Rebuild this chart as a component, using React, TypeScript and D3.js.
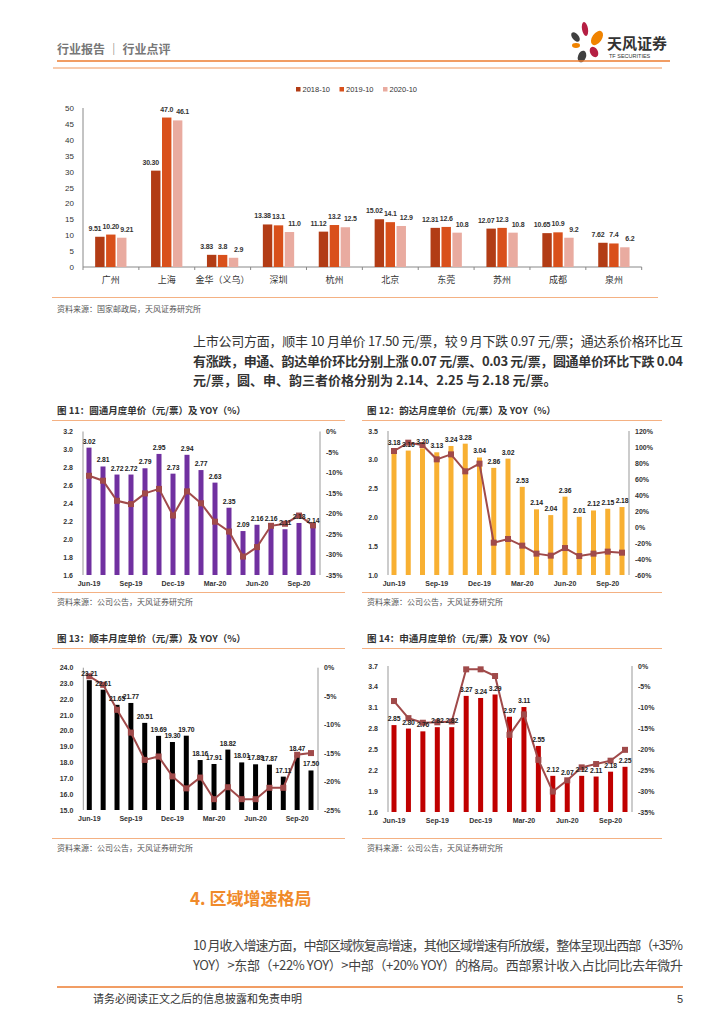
import * as d3 from "d3";

// ---- top chart: city unit price, Oct each year
const cities = ["广州", "上海", "金华（义乌）", "深圳", "杭州", "北京", "东莞", "苏州", "成都", "泉州"];
const years = ["2018-10", "2019-10", "2020-10"];
const city2018 = ["9.51", "30.30", "3.83", "13.38", "11.12", "15.02", "12.31", "12.07", "10.65", "7.62"];
const city2019 = ["10.20", "47.0", "3.8", "13.1", "13.2", "14.1", "12.6", "12.3", "10.9", "7.4"];
const city2020 = ["9.21", "46.1", "2.9", "11.0", "12.5", "12.9", "10.8", "10.8", "9.2", "6.2"];
const cityTicks = [0, 5, 10, 15, 20, 25, 30, 35, 40, 45, 50];

// ---- monthly charts
const months = ["Jun-19", "Jul-19", "Aug-19", "Sep-19", "Oct-19", "Nov-19", "Dec-19", "Jan-20", "Feb-20",
  "Mar-20", "Apr-20", "May-20", "Jun-20", "Jul-20", "Aug-20", "Sep-20", "Oct-20"];
const shownMonths = ["Jun-19", "Sep-19", "Dec-19", "Mar-20", "Jun-20", "Sep-20"];

const ytoPrice = ["3.02", "2.81", "2.72", "2.72", "2.79", "2.95", "2.73", "2.94", "2.77", "2.63", "2.35", "2.09", "2.16", "2.16", "2.11", "2.18", "2.14"];
const ytoYoy = [-10.8, -12.0, -16.9, -17.7, -15.1, -14.0, -20.5, -14.6, -17.5, -22.0, -24.4, -30.5, -28.2, -23.0, -22.5, -20.5, -22.9];
const ytoLeftTicks = ["1.6", "1.8", "2.0", "2.2", "2.4", "2.6", "2.8", "3.0", "3.2"];
const ytoRightTicks = [-35, -30, -25, -20, -15, -10, -5, 0];

const ydPrice = ["3.18", "3.16", "3.20", "3.13", "3.24", "3.28", "3.04", "2.86", "3.02", "2.53", "2.14", "2.04", "2.36", "2.01", "2.12", "2.15", "2.18"];
const ydYoy = [95, 105.4, 102.5, 84.6, 90.8, 69.6, 79.2, -19.6, -15, -23.3, -33.3, -35.8, -26.3, -36.3, -33.3, -30.8, -32.1];
const ydLeftTicks = ["1.0", "1.5", "2.0", "2.5", "3.0", "3.5"];
const ydRightTicks = [-60, -40, -20, 0, 20, 40, 60, 80, 100, 120];

const sfPrice = ["23.21", "22.61", "21.65", "21.77", "20.51", "19.69", "19.30", "19.70", "18.16", "17.91", "18.82", "18.01", "17.89", "17.87", "17.11", "18.47", "17.50"];
const sfYoy = [-1.5, -3.0, -7.4, -11.4, -16.2, -15.6, -19.1, -21.2, -19.3, -23.1, -21.0, -23.1, -23.1, -21.1, -21.1, -15.3, -15.0];
const sfLeftTicks = ["15.0", "16.0", "17.0", "18.0", "19.0", "20.0", "21.0", "22.0", "23.0", "24.0"];
const sfRightTicks = [-25, -20, -15, -10, -5, 0];

const stoPrice = ["2.85", "2.80", "2.76", "2.82", "2.82", "3.27", "3.24", "3.29", "2.97", "3.11", "2.55", "2.12", "2.07", "2.12", "2.11", "2.18", "2.25"];
const stoYoy = [-8.4, -12.5, -13.6, -13.5, -13.3, -0.8, -0.8, -2.4, -16.5, -11.6, -22.5, -30.1, -27.4, -24.3, -23.5, -22.7, -20.1];
const stoLeftTicks = ["1.6", "1.9", "2.2", "2.5", "2.8", "3.1", "3.4", "3.7"];
const stoRightTicks = [-35, -30, -25, -20, -15, -10, -5, 0];

const NUM = "'Liberation Sans', Arial, 'Noto Sans CJK SC', sans-serif";
const CJK = "'Noto Sans CJK SC', 'Liberation Sans', sans-serif";
const ORANGE = "#ED7D31";
const LIGHT = "#F4B183";
const LINE = "#A04A4A";
const SOURCE = "资料来源：公司公告，天风证券研究所";

function CityChart() {
  const left = 83, right = 641.7, top = 108, bottom = 267;
  const x0 = d3.scaleBand<string>().domain(cities).range([left, right]).paddingInner(0.385).paddingOuter(0.19);
  const x1 = d3.scaleBand<string>().domain(years).range([0, x0.bandwidth()]).padding(0.14);
  const y = d3.scaleLinear().domain([0, 50]).range([bottom, top]);
  const colors = ["#B23C15", "#D9501B", "#E9ABA0"];
  const series = [city2018, city2019, city2020];
  const step = (right - left) / cities.length;

  return (
    <g>
      {years.map((yr, k) => (
        <g key={yr} transform={`translate(${296 + k * 43.5},89)`}>
          <rect x={0} y={-2} width={4.5} height={4.5} fill={colors[k]} />
          <text x={6.5} y={3} fontSize={7.5} fill="#333" fontFamily={NUM}>{yr}</text>
        </g>
      ))}
      {cityTicks.map(t => (
        <text key={t} x={74} y={y(t) + 3} fontSize={8} textAnchor="end" fill="#333" fontFamily={NUM}>{t}</text>
      ))}
      <line x1={left} x2={left} y1={top} y2={bottom} stroke="#888" />
      <line x1={left} x2={right} y1={bottom} y2={bottom} stroke="#888" />
      {d3.range(cities.length + 1).map(i => (
        <line key={i} x1={left + i * step} x2={left + i * step} y1={bottom} y2={bottom + 3} stroke="#888" />
      ))}
      {cities.map((c, i) => (
        <g key={c}>
          {series.map((s, k) => {
            const v = +s[i];
            const bx = x0(c)! + x1(years[k])!;
            return (
              <g key={k}>
                <rect x={bx} y={y(v)} width={x1.bandwidth()} height={bottom - y(v)} fill={colors[k]} />
                <text x={bx + x1.bandwidth() / 2 + (k - 1) * 5} y={y(v) - 6} fontSize={7} fontWeight="bold" textAnchor="middle"
                  letterSpacing={-0.2} fill="#333" fontFamily={NUM}>{s[i]}</text>
              </g>
            );
          })}
          <text x={x0(c)! + x0.bandwidth() / 2} y={283} fontSize={9} textAnchor="middle" fill="#333" fontFamily={CJK}>{c}</text>
        </g>
      ))}
      <line x1={52} x2={658} y1={297.5} y2={297.5} stroke={LIGHT} />
      <text x={57} y={312} fontSize={8} fill="#555" fontFamily={CJK}>资料来源：国家邮政局，天风证券研究所</text>
    </g>
  );
}

type Frame = { left: number; right: number; top: number; bottom: number; titleY: number; lineX1: number; lineX2: number; srcY: number };

function DualChart({ f, title, prices, yoy, leftTicks, rightTicks, barColor }: {
  f: Frame; title: string; prices: string[]; yoy: number[]; leftTicks: string[]; rightTicks: number[]; barColor: string;
}) {
  const x = d3.scalePoint<string>().domain(months).range([f.left + 6, f.right - 7]);
  const lt = leftTicks.map(Number);
  const yL = d3.scaleLinear().domain([lt[0], lt[0] + (lt[1] - lt[0]) * (lt.length - 1)]).range([f.bottom, f.top]);
  const yR = d3.scaleLinear().domain(d3.extent(rightTicks) as [number, number]).range([f.bottom, f.top]);
  const line = d3.line<number>().x((_, i) => x(months[i])!).y(d => yR(d));
  const bw = 5;
  return (
    <g>
      <text x={f.lineX1 + 5} y={f.titleY} fontSize={9.5} fontWeight="bold" fill="#333" fontFamily={CJK}>{title}</text>
      <line x1={f.lineX1} x2={f.lineX2} y1={f.titleY + 6.5} y2={f.titleY + 6.5} stroke={LIGHT} strokeWidth={1.2} />
      {leftTicks.map(t => (
        <text key={t} x={f.left - 10} y={yL(+t) + 2.5} fontSize={7} fontWeight="bold" textAnchor="end" fill="#333" fontFamily={NUM}>{t}</text>
      ))}
      {rightTicks.map(t => (
        <text key={t} x={f.right + 6} y={yR(t) + 2.5} fontSize={7} fontWeight="bold" fill="#333" fontFamily={NUM}>{t}%</text>
      ))}
      <line x1={f.left} x2={f.left} y1={f.top} y2={f.bottom} stroke="#999" />
      <line x1={f.right} x2={f.right} y1={f.top} y2={f.bottom} stroke="#999" />
      {prices.map((p, i) => (
        <rect key={i} x={x(months[i])! - bw / 2} y={yL(+p)} width={bw} height={f.bottom - yL(+p)} fill={barColor} />
      ))}
      <path d={line(yoy)!} fill="none" stroke={LINE} strokeWidth={2} />
      {yoy.map((v, i) => (
        <rect key={i} x={x(months[i])! - 3} y={yR(v) - 3} width={6} height={6} fill={LINE} />
      ))}
      {prices.map((p, i) => (
        <text key={i} x={x(months[i])!} y={yL(+p) - 4} fontSize={6.8} fontWeight="bold" textAnchor="middle"
          letterSpacing={-0.2} fill="#222" fontFamily={NUM}>{p}</text>
      ))}
      {shownMonths.map(m => (
        <text key={m} x={x(m)!} y={f.bottom + 11} fontSize={7} fontWeight="bold" textAnchor="middle" fill="#333" fontFamily={NUM}>{m}</text>
      ))}
      <line x1={f.lineX1} x2={f.lineX2} y1={f.srcY} y2={f.srcY} stroke={LIGHT} strokeWidth={1.2} />
      <text x={f.lineX1 + 5} y={f.srcY + 12.5} fontSize={8} fill="#555" fontFamily={CJK}>{SOURCE}</text>
    </g>
  );
}

function Logo() {
  return (
    <g>
      <ellipse cx={585} cy={29} rx={3} ry={7} transform="rotate(-10 585 29)" fill="#B51F43" />
      <ellipse cx={575.5} cy={37} rx={3.2} ry={5.5} transform="rotate(-40 575.5 37)" fill="#404040" />
      <ellipse cx={597} cy={38} rx={4.8} ry={8} transform="rotate(35 597 38)" fill="#F08300" />
      <ellipse cx={576} cy={45.5} rx={4} ry={2.4} fill="#F08300" />
      <ellipse cx={594} cy={52} rx={3.8} ry={5.5} transform="rotate(-30 594 52)" fill="#B51F43" />
      <ellipse cx={582} cy={56.5} rx={4} ry={6} transform="rotate(20 582 56.5)" fill="#404040" />
      <text x={607} y={49} fontSize={15} fontWeight="bold" fill="#333" fontFamily={CJK}>天风证券</text>
      <text x={609} y={58} fontSize={5.5} fill="#333" fontFamily={NUM}>TF SECURITIES</text>
    </g>
  );
}

export default function App() {
  const f11: Frame = { left: 83, right: 320, top: 431.5, bottom: 575, titleY: 414, lineX1: 52, lineX2: 345, srcY: 592.5 };
  const f12: Frame = { left: 388, right: 629, top: 431, bottom: 575, titleY: 414, lineX1: 362, lineX2: 662, srcY: 592.5 };
  const f13: Frame = { left: 83.3, right: 318, top: 667.7, bottom: 810, titleY: 642, lineX1: 52, lineX2: 345, srcY: 838.5 };
  const f14: Frame = { left: 388, right: 632, top: 666, bottom: 812, titleY: 642, lineX1: 362, lineX2: 662, srcY: 838.5 };
  return (
    <svg width={724} height={1024} style={{ position: "absolute", left: 0, top: 0, background: "#fff" }}>
      <rect width={724} height={1024} fill="#fff" />
      <text x={57} y={54} fontSize={12} fontWeight="bold" fill="#777" fontFamily={CJK}>行业报告 ｜ 行业点评</text>
      <Logo />
      <line x1={57} x2={670} y1={61} y2={61} stroke={ORANGE} strokeWidth={1.5} />
      <line x1={53} x2={662} y1={68} y2={68} stroke="#F8CBAD" strokeWidth={2} />

      <CityChart />

      <g fontFamily={CJK} fontSize={13} fill="#333">
        <text x={193} y={346} textLength={490} lengthAdjust="spacing">上市公司方面，顺丰 10 月单价 17.50 元/票，较 9 月下跌 0.97 元/票；通达系价格环比互</text>
        <text x={193} y={365.5} textLength={490} lengthAdjust="spacing" fontWeight="bold">有涨跌，申通、韵达单价环比分别上涨 0.07 元/票、0.03 元/票，圆通单价环比下跌 0.04</text>
        <text x={193} y={385} fontWeight="bold">元/票，圆、申、韵三者价格分别为 2.14、2.25 与 2.18 元/票。</text>
      </g>

      <DualChart f={f11} title="图 11：圆通月度单价（元/票）及 YOY（%）" prices={ytoPrice} yoy={ytoYoy}
        leftTicks={ytoLeftTicks} rightTicks={ytoRightTicks} barColor="#7030A0" />
      <DualChart f={f12} title="图 12：韵达月度单价（元/票）及 YOY（%）" prices={ydPrice} yoy={ydYoy}
        leftTicks={ydLeftTicks} rightTicks={ydRightTicks} barColor="#F8B032" />
      <DualChart f={f13} title="图 13：顺丰月度单价（元/票）及 YOY（%）" prices={sfPrice} yoy={sfYoy}
        leftTicks={sfLeftTicks} rightTicks={sfRightTicks} barColor="#000000" />
      <DualChart f={f14} title="图 14：申通月度单价（元/票）及 YOY（%）" prices={stoPrice} yoy={stoYoy}
        leftTicks={stoLeftTicks} rightTicks={stoRightTicks} barColor="#C00000" />

      <text x={190} y={905} fontSize={17} fontWeight="bold" fill="#F08A2A" fontFamily={CJK}>4. 区域增速格局</text>
      <g fontFamily={CJK} fontSize={13} fill="#444">
        <text x={193} y={950} textLength={490} lengthAdjust="spacing">10 月收入增速方面，中部区域恢复高增速，其他区域增速有所放缓，整体呈现出西部（+35%</text>
        <text x={193} y={970} textLength={490} lengthAdjust="spacing">YOY）&gt;东部（+22% YOY）&gt;中部（+20% YOY）的格局。西部累计收入占比同比去年微升</text>
      </g>
      <line x1={57} x2={683} y1={987} y2={987} stroke={ORANGE} strokeWidth={1.5} />
      <text x={93} y={1003} fontSize={11} fill="#333" fontFamily={CJK}>请务必阅读正文之后的信息披露和免责申明</text>
      <text x={683} y={1003} fontSize={11} textAnchor="end" fill="#333" fontFamily={NUM}>5</text>
    </svg>
  );
}
